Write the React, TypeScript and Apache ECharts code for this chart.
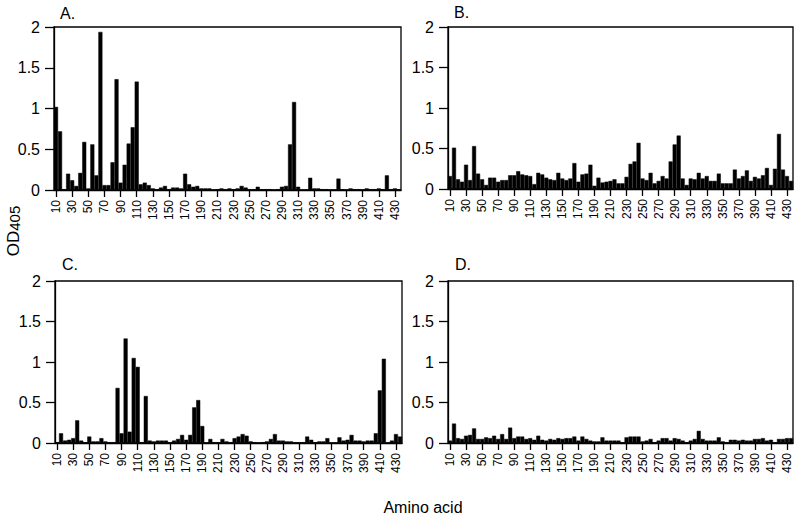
import React, { useEffect, useRef } from "react";
import * as echarts from "echarts";

const residues = [
  10, 15, 20, 25, 30, 35, 40, 45, 50, 55, 60, 65, 70, 75, 80, 85, 90, 95, 100, 105,
  110, 115, 120, 125, 130, 135, 140, 145, 150, 155, 160, 165, 170, 175, 180, 185, 190, 195, 200, 205,
  210, 215, 220, 225, 230, 235, 240, 245, 250, 255, 260, 265, 270, 275, 280, 285, 290, 295, 300, 305,
  310, 315, 320, 325, 330, 335, 340, 345, 350, 355, 360, 365, 370, 375, 380, 385, 390, 395, 400, 405,
  410, 415, 420, 425, 430, 435,
];

const panelA = [
  1.02, 0.72, 0.01, 0.2, 0.12, 0.05, 0.21, 0.59, 0.02, 0.56,
  0.18, 1.94, 0.06, 0.06, 0.34, 1.36, 0.09, 0.31, 0.57, 0.77,
  1.33, 0.07, 0.09, 0.06, 0.02, 0.01, 0.03, 0.05, 0.01, 0.03,
  0.03, 0.02, 0.2, 0.07, 0.04, 0.05, 0.02, 0.02, 0.02, 0.0,
  0.01, 0.02, 0.01, 0.02, 0.01, 0.02, 0.05, 0.03, 0.01, 0.01,
  0.04, 0.01, 0.01, 0.01, 0.0, 0.01, 0.04, 0.05, 0.56, 1.08,
  0.04, 0.0, 0.0, 0.15, 0.02, 0.02, 0.01, 0.01, 0.0, 0.0,
  0.14, 0.01, 0.0, 0.02, 0.01, 0.01, 0.0, 0.02, 0.01, 0.01,
  0.02, 0.01, 0.18, 0.01, 0.02, 0.01,
];

const panelB = [
  0.16, 0.51, 0.12, 0.09, 0.3, 0.11, 0.53, 0.19, 0.12, 0.05,
  0.14, 0.14, 0.09, 0.11, 0.11, 0.17, 0.17, 0.22, 0.18, 0.17,
  0.16, 0.06, 0.2, 0.18, 0.14, 0.12, 0.11, 0.2, 0.13, 0.11,
  0.13, 0.32, 0.09, 0.18, 0.19, 0.3, 0.04, 0.14, 0.08, 0.09,
  0.1, 0.12, 0.07, 0.07, 0.15, 0.31, 0.34, 0.57, 0.13, 0.11,
  0.2, 0.07, 0.1, 0.16, 0.13, 0.34, 0.55, 0.66, 0.13, 0.05,
  0.13, 0.12, 0.2, 0.13, 0.16, 0.1, 0.1, 0.19, 0.07, 0.07,
  0.07, 0.24, 0.13, 0.16, 0.23, 0.1, 0.15, 0.13, 0.17, 0.26,
  0.05, 0.25, 0.68, 0.24, 0.16, 0.1,
];

const panelC = [
  0.01, 0.12, 0.03, 0.04, 0.06, 0.28, 0.03, 0.01, 0.08, 0.02,
  0.02, 0.06, 0.02, 0.01, 0.01, 0.68, 0.12, 1.29, 0.14, 1.05,
  0.94, 0.01, 0.58, 0.03, 0.02, 0.03, 0.03, 0.03, 0.01, 0.03,
  0.05, 0.1, 0.04, 0.1, 0.44, 0.53, 0.21, 0.0, 0.05, 0.01,
  0.01, 0.05, 0.02, 0.01, 0.06, 0.08, 0.11, 0.09, 0.02, 0.01,
  0.0, 0.01, 0.02, 0.05, 0.11, 0.03, 0.03, 0.02, 0.02, 0.01,
  0.01, 0.01, 0.08, 0.04, 0.01, 0.02, 0.02, 0.06, 0.0, 0.0,
  0.07, 0.03, 0.04, 0.1, 0.03, 0.03, 0.02, 0.03, 0.03, 0.12,
  0.65, 1.04, 0.0, 0.03, 0.11, 0.08,
];

const panelD = [
  0.03, 0.24, 0.06, 0.05, 0.09, 0.1, 0.18, 0.05, 0.05, 0.07,
  0.06, 0.09, 0.05, 0.11, 0.05, 0.19, 0.06, 0.08, 0.08, 0.05,
  0.06, 0.04, 0.09, 0.04, 0.03, 0.05, 0.04, 0.06, 0.05, 0.06,
  0.06, 0.08, 0.03, 0.08, 0.05, 0.03, 0.02, 0.02, 0.07, 0.03,
  0.03, 0.03, 0.03, 0.01, 0.07, 0.08, 0.08, 0.08, 0.02, 0.03,
  0.05, 0.01, 0.03, 0.06, 0.06, 0.03, 0.06, 0.05, 0.03, 0.01,
  0.03, 0.05, 0.15, 0.05, 0.03, 0.03, 0.03, 0.07, 0.02, 0.01,
  0.04, 0.04, 0.03, 0.04, 0.03, 0.03, 0.05, 0.05, 0.06, 0.03,
  0.04, 0.01, 0.05, 0.05, 0.06, 0.06,
];

const panelTitles = ["A.", "B.", "C.", "D."];
const panelData = [panelA, panelB, panelC, panelD];
const yTicks = { min: 0, max: 2, interval: 0.5 };

const FONT = "'Liberation Sans', Arial, Helvetica, sans-serif";

export default function App() {
  const ref = useRef<HTMLDivElement>(null);

  useEffect(() => {
    document.body.style.margin = "0";
    if (!ref.current) return;
    const chart = echarts.init(ref.current, undefined, { renderer: "svg" });

    const grids = [
      { left: 54, top: 27, width: 347, height: 163 },
      { left: 448, top: 27, width: 345, height: 162 },
      { left: 55, top: 281, width: 347, height: 162 },
      { left: 448, top: 281, width: 345, height: 162 },
    ];
    const titlePos = [
      { x: 60, y: 13 },
      { x: 454, y: 12 },
      { x: 62, y: 264 },
      { x: 455, y: 264 },
    ];

    const option: any = {
      animation: false,
      backgroundColor: "#ffffff",
      grid: grids.map((g) => ({
        ...g,
        show: true,
        borderColor: "#000",
        borderWidth: 1.3,
        backgroundColor: "transparent",
        containLabel: false,
      })),
      xAxis: grids.map((_, i) => ({
        type: "category",
        gridIndex: i,
        data: residues.map(String),
        boundaryGap: true,
        axisLine: { show: true, lineStyle: { color: "#000", width: 1.3 } },
        axisTick: {
          show: true,
          interval: 3,
          alignWithLabel: true,
          length: 7,
          lineStyle: { color: "#000", width: 1.3 },
        },
        axisLabel: {
          interval: 3,
          rotate: 90,
          margin: 10,
          color: "#000",
          fontSize: 12,
          fontFamily: FONT,
        },
        splitLine: { show: false },
      })),
      yAxis: grids.map((_, i) => ({
        type: "value",
        gridIndex: i,
        min: yTicks.min,
        max: yTicks.max,
        interval: yTicks.interval,
        axisLine: { show: true, lineStyle: { color: "#000", width: 1.3 } },
        axisTick: { show: true, length: 9, lineStyle: { color: "#000", width: 1.3 } },
        axisLabel: {
          margin: 14,
          color: "#000",
          fontSize: 16,
          fontFamily: FONT,
        },
        splitLine: { show: false },
      })),
      series: panelData.map((d, i) => ({
        type: "bar",
        xAxisIndex: i,
        yAxisIndex: i,
        data: d,
        barWidth: "100%",
        barCategoryGap: "0%",
        itemStyle: { color: "#000", borderColor: "#000", borderWidth: 0.5 },
        silent: true,
      })),
      graphic: [
        ...panelTitles.map((t, i) => ({
          type: "text",
          x: titlePos[i].x,
          y: titlePos[i].y,
          style: {
            text: t,
            fill: "#000",
            font: `16px ${FONT}`,
            align: "left",
            verticalAlign: "middle",
          },
        })),
        {
          type: "text",
          x: 12,
          y: 231,
          rotation: Math.PI / 2,
          style: {
            text: "{a|OD}{b|405}",
            align: "center",
            verticalAlign: "middle",
            fill: "#000",
            rich: {
              a: { fontSize: 17, fontFamily: FONT, fill: "#000", verticalAlign: "bottom" },
              b: { fontSize: 15, fontFamily: FONT, fill: "#000", verticalAlign: "bottom", padding: [4, 0, 0, 0] },
            },
          },
        },
        {
          type: "text",
          x: 423,
          y: 507,
          style: {
            text: "Amino acid",
            fill: "#000",
            font: `16px ${FONT}`,
            align: "center",
            verticalAlign: "middle",
          },
        },
      ],
    };

    chart.setOption(option);
    return () => chart.dispose();
  }, []);

  return (
    <div
      ref={ref}
      style={{ position: "absolute", left: 0, top: 0, width: 800, height: 518 }}
    />
  );
}
